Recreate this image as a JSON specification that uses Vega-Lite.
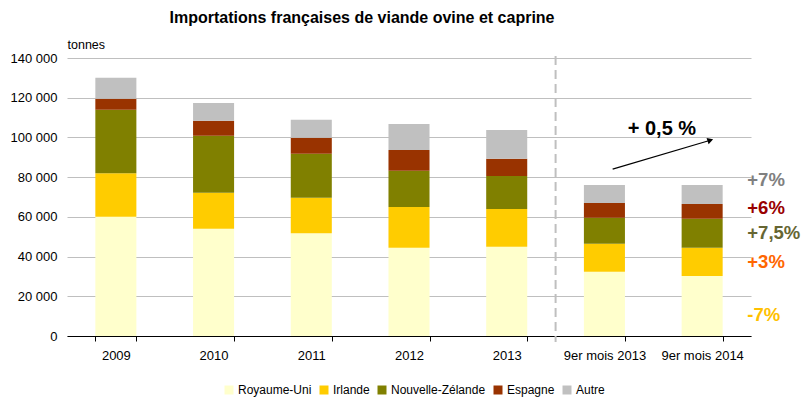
{
  "$schema": "https://vega.github.io/schema/vega-lite/v6.json",
  "width": 684,
  "height": 278,
  "autosize": {"type": "none"},
  "padding": {"left": 67, "top": 58, "right": 52, "bottom": 64},
  "title": {"text": "Importations françaises de viande ovine et caprine", "fontSize": 16, "fontWeight": "bold", "font": "Liberation Sans", "color": "#000000", "anchor": "middle", "dx": -47, "offset": 12},
  "config": {
    "font": "Liberation Sans",
    "view": {"stroke": null},
    "axis": {"labelFont": "Liberation Sans", "labelColor": "#000000", "labelFontSize": 13, "titleFont": "Liberation Sans"},
    "legend": {"labelFont": "Liberation Sans"}
  },
  "datasets": {
    "imports": [
      {"periode": "2009", "pays": "Royaume-Uni", "rang": 1, "tonnes": 60000},
      {"periode": "2009", "pays": "Irlande", "rang": 2, "tonnes": 22000},
      {"periode": "2009", "pays": "Nouvelle-Zélande", "rang": 3, "tonnes": 32000},
      {"periode": "2009", "pays": "Espagne", "rang": 4, "tonnes": 5500},
      {"periode": "2009", "pays": "Autre", "rang": 5, "tonnes": 10500},
      {"periode": "2010", "pays": "Royaume-Uni", "rang": 1, "tonnes": 54000},
      {"periode": "2010", "pays": "Irlande", "rang": 2, "tonnes": 18100},
      {"periode": "2010", "pays": "Nouvelle-Zélande", "rang": 3, "tonnes": 28700},
      {"periode": "2010", "pays": "Espagne", "rang": 4, "tonnes": 7600},
      {"periode": "2010", "pays": "Autre", "rang": 5, "tonnes": 9000},
      {"periode": "2011", "pays": "Royaume-Uni", "rang": 1, "tonnes": 51700},
      {"periode": "2011", "pays": "Irlande", "rang": 2, "tonnes": 17900},
      {"periode": "2011", "pays": "Nouvelle-Zélande", "rang": 3, "tonnes": 22200},
      {"periode": "2011", "pays": "Espagne", "rang": 4, "tonnes": 8000},
      {"periode": "2011", "pays": "Autre", "rang": 5, "tonnes": 9100},
      {"periode": "2012", "pays": "Royaume-Uni", "rang": 1, "tonnes": 44400},
      {"periode": "2012", "pays": "Irlande", "rang": 2, "tonnes": 20600},
      {"periode": "2012", "pays": "Nouvelle-Zélande", "rang": 3, "tonnes": 18200},
      {"periode": "2012", "pays": "Espagne", "rang": 4, "tonnes": 10500},
      {"periode": "2012", "pays": "Autre", "rang": 5, "tonnes": 13100},
      {"periode": "2013", "pays": "Royaume-Uni", "rang": 1, "tonnes": 44900},
      {"periode": "2013", "pays": "Irlande", "rang": 2, "tonnes": 19100},
      {"periode": "2013", "pays": "Nouvelle-Zélande", "rang": 3, "tonnes": 16600},
      {"periode": "2013", "pays": "Espagne", "rang": 4, "tonnes": 8600},
      {"periode": "2013", "pays": "Autre", "rang": 5, "tonnes": 14600},
      {"periode": "9er mois 2013", "pays": "Royaume-Uni", "rang": 1, "tonnes": 32300},
      {"periode": "9er mois 2013", "pays": "Irlande", "rang": 2, "tonnes": 14100},
      {"periode": "9er mois 2013", "pays": "Nouvelle-Zélande", "rang": 3, "tonnes": 13100},
      {"periode": "9er mois 2013", "pays": "Espagne", "rang": 4, "tonnes": 7500},
      {"periode": "9er mois 2013", "pays": "Autre", "rang": 5, "tonnes": 9100},
      {"periode": "9er mois 2014", "pays": "Royaume-Uni", "rang": 1, "tonnes": 30200},
      {"periode": "9er mois 2014", "pays": "Irlande", "rang": 2, "tonnes": 14200},
      {"periode": "9er mois 2014", "pays": "Nouvelle-Zélande", "rang": 3, "tonnes": 14600},
      {"periode": "9er mois 2014", "pays": "Espagne", "rang": 4, "tonnes": 7500},
      {"periode": "9er mois 2014", "pays": "Autre", "rang": 5, "tonnes": 9600}
    ],
    "separateur": [{"periode": "9er mois 2013", "haut": 141000, "bas": -3000}],
    "fleche": [
      {"periode": "9er mois 2013", "tonnes": 84000, "pt": 1},
      {"periode": "9er mois 2014", "tonnes": 98600, "pt": 2}
    ],
    "pointe": [{"periode": "9er mois 2014", "tonnes": 98600}],
    "total": [{"periode": "9er mois 2014", "tonnes": 104300, "texte": "+ 0,5 %"}],
    "evolutions": [
      {"periode": "9er mois 2014", "pays": "Autre", "tonnes": 78600, "texte": "+7%"},
      {"periode": "9er mois 2014", "pays": "Espagne", "tonnes": 64500, "texte": "+6%"},
      {"periode": "9er mois 2014", "pays": "Nouvelle-Zélande", "tonnes": 51900, "texte": "+7,5%"},
      {"periode": "9er mois 2014", "pays": "Irlande", "tonnes": 37300, "texte": "+3%"},
      {"periode": "9er mois 2014", "pays": "Royaume-Uni", "tonnes": 10600, "texte": "-7%"}
    ]
  },
  "layer": [
    {
      "data": {"name": "imports"},
      "mark": {"type": "bar"},
      "encoding": {
        "x": {
          "field": "periode", "type": "nominal",
          "scale": {"domain": ["2009", "2010", "2011", "2012", "2013", "9er mois 2013", "9er mois 2014"], "paddingInner": 0.58, "paddingOuter": 0.29},
          "axis": {"title": null, "labelAngle": 0, "tickBand": "extent", "domainColor": "#000000", "domainWidth": 1, "tickColor": "#000000", "tickSize": 5, "labelPadding": 8, "grid": false}
        },
        "y": {
          "field": "tonnes", "type": "quantitative", "aggregate": "sum", "stack": "zero",
          "scale": {"domain": [0, 140000], "nice": false},
          "axis": {"title": "tonnes", "titleAngle": 0, "titleAlign": "left", "titleBaseline": "alphabetic", "titleX": 0, "titleY": -10, "titleFontSize": 12.5, "titleFontWeight": "normal", "titleColor": "#000000",
            "values": [0, 20000, 40000, 60000, 80000, 100000, 120000, 140000],
            "labelExpr": "replace(format(datum.value, ','), ',', ' ')",
            "labelOverlap": false, "labelFlush": false,
            "ticks": false, "domain": false, "labelPadding": 10, "gridColor": "#BFBFBF", "gridWidth": 1}
        },
        "color": {
          "field": "pays", "type": "nominal",
          "scale": {"domain": ["Royaume-Uni", "Irlande", "Nouvelle-Zélande", "Espagne", "Autre"], "range": ["#FFFFCC", "#FFCC00", "#808000", "#993300", "#C0C0C0"]},
          "legend": {"title": null, "orient": "none", "legendX": 156, "legendY": 326, "direction": "horizontal", "symbolType": "square", "symbolSize": 81, "symbolStrokeWidth": 0, "labelFontSize": 12, "labelColor": "#000000", "columnPadding": 6, "labelOffset": 3}
        },
        "order": {"field": "rang", "type": "quantitative"}
      }
    },
    {
      "data": {"name": "separateur"},
      "mark": {"type": "rule", "color": "#BFBFBF", "strokeWidth": 2, "strokeDash": [9, 5]},
      "encoding": {
        "x": {"field": "periode", "type": "nominal", "bandPosition": -0.69},
        "y": {"field": "haut", "type": "quantitative",
          "axis": {"title": "tonnes", "titleAngle": 0, "titleAlign": "left", "titleBaseline": "alphabetic", "titleX": 0, "titleY": -10, "titleFontSize": 12.5, "titleFontWeight": "normal", "titleColor": "#000000",
            "values": [0, 20000, 40000, 60000, 80000, 100000, 120000, 140000],
            "labelExpr": "replace(format(datum.value, ','), ',', ' ')",
            "labelOverlap": false, "labelFlush": false,
            "ticks": false, "domain": false, "labelPadding": 10, "gridColor": "#BFBFBF", "gridWidth": 1}},
        "y2": {"field": "bas"}
      }
    },
    {
      "data": {"name": "fleche"},
      "mark": {"type": "line", "color": "#000000", "strokeWidth": 1.2},
      "encoding": {
        "x": {"field": "periode", "type": "nominal", "bandPosition": 0.7},
        "y": {"field": "tonnes", "type": "quantitative",
          "axis": {"title": "tonnes", "titleAngle": 0, "titleAlign": "left", "titleBaseline": "alphabetic", "titleX": 0, "titleY": -10, "titleFontSize": 12.5, "titleFontWeight": "normal", "titleColor": "#000000",
            "values": [0, 20000, 40000, 60000, 80000, 100000, 120000, 140000],
            "labelExpr": "replace(format(datum.value, ','), ',', ' ')",
            "labelOverlap": false, "labelFlush": false,
            "ticks": false, "domain": false, "labelPadding": 10, "gridColor": "#BFBFBF", "gridWidth": 1}},
        "order": {"field": "pt", "type": "quantitative"}
      }
    },
    {
      "data": {"name": "pointe"},
      "mark": {"type": "point", "shape": "triangle-up", "filled": true, "color": "#000000", "size": 45, "angle": 72, "opacity": 1},
      "encoding": {
        "x": {"field": "periode", "type": "nominal", "bandPosition": 0.7},
        "y": {"field": "tonnes", "type": "quantitative",
          "axis": {"title": "tonnes", "titleAngle": 0, "titleAlign": "left", "titleBaseline": "alphabetic", "titleX": 0, "titleY": -10, "titleFontSize": 12.5, "titleFontWeight": "normal", "titleColor": "#000000",
            "values": [0, 20000, 40000, 60000, 80000, 100000, 120000, 140000],
            "labelExpr": "replace(format(datum.value, ','), ',', ' ')",
            "labelOverlap": false, "labelFlush": false,
            "ticks": false, "domain": false, "labelPadding": 10, "gridColor": "#BFBFBF", "gridWidth": 1}}
      }
    },
    {
      "data": {"name": "total"},
      "mark": {"type": "text", "fontSize": 20, "fontWeight": "bold", "color": "#000000", "align": "center", "baseline": "middle"},
      "encoding": {
        "x": {"field": "periode", "type": "nominal", "bandPosition": -0.48},
        "y": {"field": "tonnes", "type": "quantitative",
          "axis": {"title": "tonnes", "titleAngle": 0, "titleAlign": "left", "titleBaseline": "alphabetic", "titleX": 0, "titleY": -10, "titleFontSize": 12.5, "titleFontWeight": "normal", "titleColor": "#000000",
            "values": [0, 20000, 40000, 60000, 80000, 100000, 120000, 140000],
            "labelExpr": "replace(format(datum.value, ','), ',', ' ')",
            "labelOverlap": false, "labelFlush": false,
            "ticks": false, "domain": false, "labelPadding": 10, "gridColor": "#BFBFBF", "gridWidth": 1}},
        "text": {"field": "texte"}
      }
    },
    {
      "data": {"name": "evolutions"},
      "mark": {"type": "text", "fontSize": 18.5, "fontWeight": "bold", "align": "left", "baseline": "middle"},
      "encoding": {
        "x": {"field": "periode", "type": "nominal", "bandPosition": 1.6},
        "y": {"field": "tonnes", "type": "quantitative",
          "axis": {"title": "tonnes", "titleAngle": 0, "titleAlign": "left", "titleBaseline": "alphabetic", "titleX": 0, "titleY": -10, "titleFontSize": 12.5, "titleFontWeight": "normal", "titleColor": "#000000",
            "values": [0, 20000, 40000, 60000, 80000, 100000, 120000, 140000],
            "labelExpr": "replace(format(datum.value, ','), ',', ' ')",
            "labelOverlap": false, "labelFlush": false,
            "ticks": false, "domain": false, "labelPadding": 10, "gridColor": "#BFBFBF", "gridWidth": 1}},
        "text": {"field": "texte"},
        "color": {
          "field": "pays", "type": "nominal",
          "scale": {"domain": ["Royaume-Uni", "Irlande", "Nouvelle-Zélande", "Espagne", "Autre"], "range": ["#FFC000", "#FF6600", "#666633", "#990000", "#808080"]},
          "legend": null
        }
      }
    }
  ],
  "resolve": {"scale": {"color": "independent"}}
}
